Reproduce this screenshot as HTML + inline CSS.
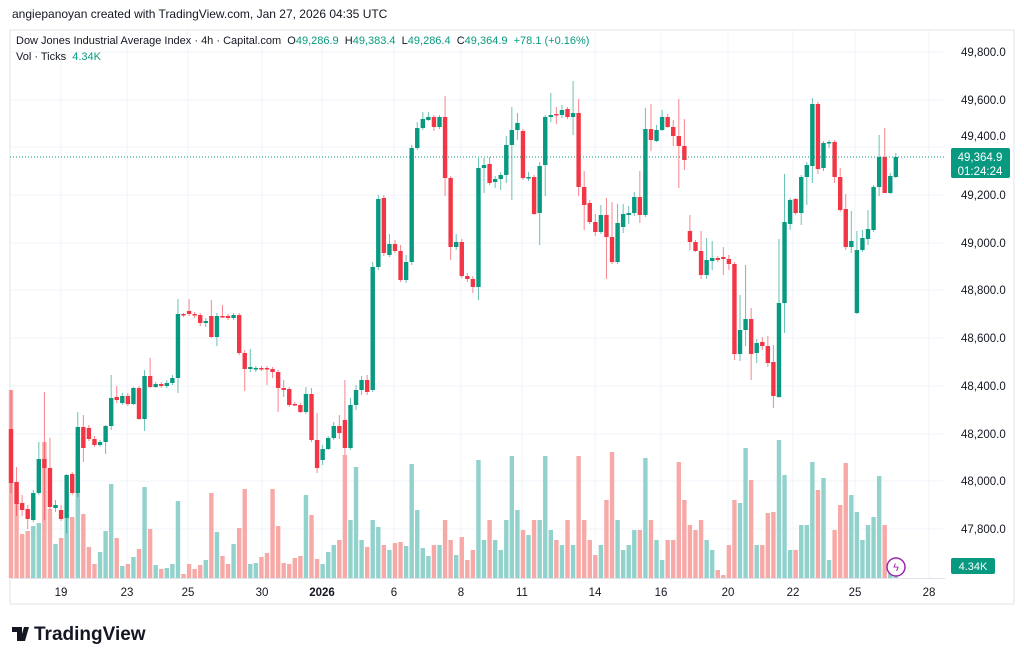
<!DOCTYPE html>
<html><head><meta charset="utf-8"><style>
body{margin:0;background:#fff;width:1024px;height:661px;overflow:hidden;font-family:"Liberation Sans",sans-serif;}
svg{position:absolute;left:0;top:0}
</style></head><body>
<svg id="s" width="1024" height="661" xmlns="http://www.w3.org/2000/svg" font-family="Liberation Sans, sans-serif">
<rect width="1024" height="661" fill="#fff"/>
<g id="grid" stroke="#f0f3fa" stroke-width="1"></g>
<rect x="10" y="30" width="1004" height="574" fill="none" stroke="#e0e3eb" stroke-width="1"/>
<g id="vol"></g>
<g id="cdl"></g>
<line x1="10" y1="157" x2="945" y2="157" stroke="#089981" stroke-width="1" stroke-dasharray="1,2"/>
<g id="ax" font-size="11.5" fill="#131722"></g>
<text x="12" y="18" font-size="12" fill="#131722">angiepanoyan created with TradingView.com, Jan 27, 2026 04:35 UTC</text>
<text x="16" y="44" font-size="11" fill="#131722">Dow Jones Industrial Average Index · 4h · Capital.com&#160;&#160;O<tspan fill="#089981">49,286.9</tspan>&#160;&#160;H<tspan fill="#089981">49,383.4</tspan>&#160;&#160;L<tspan fill="#089981">49,286.4</tspan>&#160;&#160;C<tspan fill="#089981">49,364.9</tspan>&#160;&#160;<tspan fill="#089981">+78.1 (+0.16%)</tspan></text>
<text x="16" y="60" font-size="11" fill="#131722">Vol · Ticks&#160;&#160;<tspan fill="#089981">4.34K</tspan></text>
<rect x="951" y="148" width="59" height="30" rx="2" fill="#089981"/>
<text x="980" y="161" font-size="11.5" fill="#fff" text-anchor="middle">49,364.9</text>
<text x="980" y="175" font-size="11.5" fill="#fff" text-anchor="middle">01:24:24</text>
<rect x="951" y="558" width="44" height="16" rx="2" fill="#089981"/>
<text x="973" y="570" font-size="11" fill="#fff" text-anchor="middle">4.34K</text>
<circle cx="896" cy="567" r="9" fill="#fff" stroke="#9c27b0" stroke-width="1.5"/>
<text x="896" y="571" font-size="11" fill="#9c27b0" text-anchor="middle">ϟ</text>
<g transform="translate(12,624)"><path d="M0 3h10v14h-5v-9h-5z M12 3h5l-4 14h-5z" fill="#131722"/></g>
<text x="34" y="640" font-size="19" font-weight="bold" fill="#131722">TradingView</text>
</svg>
<script>
var C=[[429,483,390,493],[482,504,467,516],[503,510,495,516],[509,519,505,529],[520,493,490,522],[493,459,442,495],[459,468,392,520],[468,507,438,510],[508,505,500,512],[510,519,505,521],
[518,475,474,533],[474,493,472,495],[493,427,412,497],[427,448,415,462],[428,439,425,441],[439,445,436,447],[445,442,440,447],[442,426,425,454],[426,398,375,430],[397,400,386,403],
[403,396,393,405],[396,404,393,406],[404,388,387,405],[388,419,386,420],[419,376,370,431],[376,387,358,388],[387,384,382,388],[384,386,382,388],[386,383,380,388],[383,378,375,385],
[378,314,299,393],[314,315,313,317],[311,314,299,316],[314,315,312,318],[315,323,313,326],[323,321,318,327],[316,337,300,338],[337,316,313,346],[316,317,305,318],[316,318,314,320],
[318,315,313,320],[315,353,313,355],[353,369,350,391],[369,367,349,372],[369,368,366,372],[368,369,366,371],[368,369,366,385],[369,372,367,378],[372,388,370,412],[388,390,380,397],
[389,405,387,407],[404,405,402,406],[405,412,403,413],[412,394,387,414],[394,440,388,442],[440,468,413,473],[460,449,445,465],[449,438,436,450],[438,426,422,440],[426,433,415,439],
[420,448,380,455],[448,405,398,450],[405,390,385,410],[390,380,376,395],[380,392,375,395],[390,267,262,392],[267,199,195,270],[198,253,195,256],[255,244,234,257],[244,251,240,253],
[251,280,245,282],[280,262,255,283],[262,148,145,265],[148,128,122,150],[128,119,112,130],[120,117,112,121],[117,127,115,131],[127,117,115,129],[117,178,96,196],[178,247,176,260],
[247,242,234,250],[242,276,239,278],[276,279,273,282],[279,287,276,293],[287,168,158,300],[168,165,158,193],[164,183,157,185],[182,179,176,188],[179,175,172,190],[175,145,136,183],
[145,130,107,200],[130,123,113,140],[131,178,129,180],[178,177,172,181],[177,214,175,215],[213,166,162,245],[165,117,115,196],[117,115,93,122],[114,115,107,124],[115,110,105,118],
[109,117,107,119],[117,113,81,135],[113,187,99,196],[187,205,171,230],[203,222,200,224],[222,232,214,236],[232,215,205,234],[215,237,198,279],[237,262,202,264],[262,223,204,264],
[227,214,204,233],[215,213,206,224],[213,197,192,216],[197,215,171,223],[215,129,108,217],[129,140,104,151],[141,130,125,142],[130,117,110,131],[117,127,114,128],[127,136,120,146],
[136,146,99,188],[146,160,119,170],[231,242,215,250],[242,251,240,252],[251,275,231,279],[275,260,238,279],[261,258,241,270],[258,260,256,262],[257,259,247,275],[259,264,255,270],
[264,354,262,360],[354,330,295,361],[330,319,265,346],[319,354,308,380],[353,343,339,363],[342,346,337,350],[346,363,336,367],[362,396,345,408],[397,303,239,398],[303,222,174,333],
[224,200,198,230],[199,213,198,215],[213,177,175,225],[177,165,162,205],[166,104,98,183],[104,169,102,174],[168,143,141,171],[143,142,140,148],[142,177,140,183],[177,210,168,212],
[209,247,194,250],[247,241,211,253],[313,250,231,314],[250,238,230,252],[239,229,210,245],[230,187,185,232],[187,157,135,196],[157,193,128,193],[193,176,173,194],[177,157,153,178]];
var V=[390,482,534,531,526,523,442,509,544,538,518,517,459,514,547,564,552,531,484,538,566,564,557,549,487,529,565,569,568,564,501,574,564,569,565,560,493,532,556,564,544,528,489,564,563,557,553,489,526,563,564,558,556,495,515,559,564,552,545,540,
455,520,467,540,547,520,527,545,550,543,542,546,464,510,548,556,545,545,520,540,555,537,560,550,460,540,520,540,550,520,456,510,530,535,520,520,456,530,540,545,520,545,456,520,540,555,545,500,452,520,550,545,530,530,458,520,540,560,540,540,462,500,525,530,520,540,550,570,575,545,500,503,448,480,545,545,513,512,440,475,550,550,525,525,462,490,478,560,530,505,463,495,512,540,525,517,476,525,570,565];
var NS="http://www.w3.org/2000/svg";
function el(p,t,a){var e=document.createElementNS(NS,t);for(var k in a)e.setAttribute(k,a[k]);document.getElementById(p).appendChild(e);return e;}
var py=[52,100,147,195,243,290,338,386,434,481,529],pl=["49,800.0","49,600.0","49,400.0","49,200.0","49,000.0","48,800.0","48,600.0","48,400.0","48,200.0","48,000.0","47,800.0"];
py.forEach(function(y,i){el("grid","line",{x1:10,x2:945,y1:y,y2:y});if(i!=2){var t=el("ax","text",{x:961,y:y+4});t.textContent=pl[i];}});
var t2=el("ax","text",{x:961,y:140});t2.textContent="49,400.0";
var tx=[[61,"19"],[127,"23"],[188,"25"],[262,"30"],[322,"2026"],[394,"6"],[461,"8"],[522,"11"],[595,"14"],[661,"16"],[728,"20"],[793,"22"],[855,"25"],[929,"28"]];
tx.forEach(function(d){el("grid","line",{x1:d[0],x2:d[0],y1:30,y2:578});var t=el("ax","text",{x:d[0],y:596,"text-anchor":"middle"});if(d[1]=="2026")t.setAttribute("font-weight","bold");t.textContent=d[1];});
el("grid","line",{x1:10,x2:945,y1:578.5,y2:578.5,stroke:"#e0e3eb"});
C.forEach(function(c,i){var x=11+5.565*i,col=c[1]<c[0]?"#089981":"#f23645";
el("vol","rect",{x:x-2.2,y:V[i],width:4.4,height:578-V[i],fill:col=="#089981"?"#92d2cc":"#f7a9a7"});
el("cdl","line",{x1:x,x2:x,y1:c[2],y2:c[3],stroke:col,"stroke-width":1,opacity:0.6});
var t=Math.min(c[0],c[1]),h=Math.max(1.5,Math.abs(c[1]-c[0]));
el("cdl","rect",{x:x-2.2,y:t,width:4.4,height:h,fill:col});});
</script>
</body></html>
